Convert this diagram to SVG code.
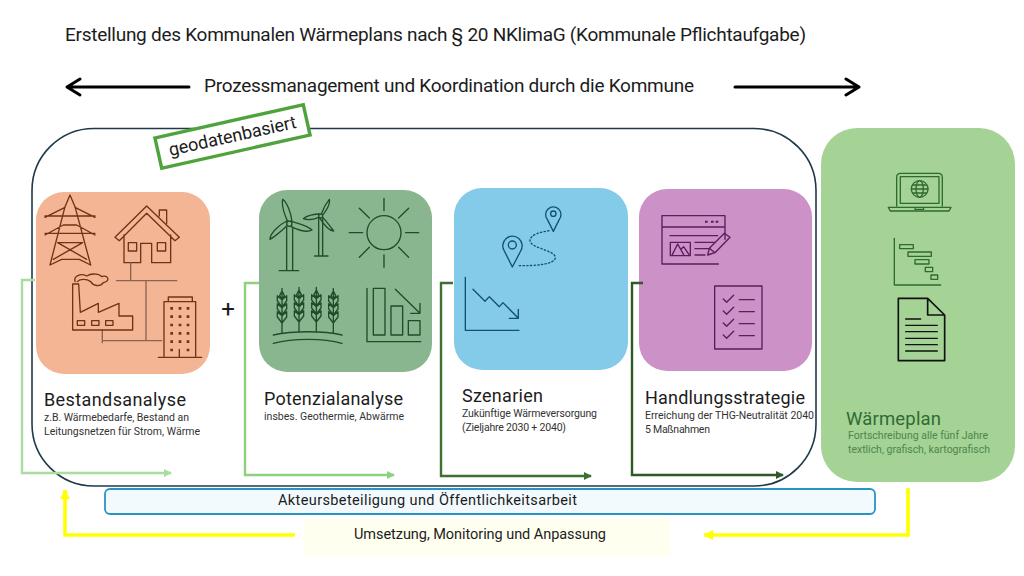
<svg xmlns="http://www.w3.org/2000/svg" width="1024" height="576" viewBox="0 0 1024 576">
<defs>
<style>
text{font-family:Roboto,"Liberation Sans",sans-serif;fill:#1c1c1c}
.h{font-size:18px}.s{font-size:10.5px;fill:#333}.t{font-size:19px}.m{font-size:14.5px}
.ic{fill:none;stroke-width:4;stroke-linejoin:round;stroke-linecap:round}
.br{stroke:#6e3417}.gr{stroke:#1f4d28}.bl{stroke:#14506f}.pu{stroke:#5c1c5e}.lg{stroke:#2f6a2f}
.c{fill:none;stroke-width:2.4}
</style>
<marker id="a1" viewBox="0 0 8 8" refX="7" refY="4" markerWidth="8" markerHeight="8" markerUnits="userSpaceOnUse" orient="auto"><path d="M0 0L8 4L0 8z" fill="#a9dca0"/></marker>
<marker id="a2" viewBox="0 0 8 8" refX="7" refY="4" markerWidth="8" markerHeight="8" markerUnits="userSpaceOnUse" orient="auto"><path d="M0 0L8 4L0 8z" fill="#8fd07f"/></marker>
<marker id="a3" viewBox="0 0 8 8" refX="7" refY="4" markerWidth="8" markerHeight="8" markerUnits="userSpaceOnUse" orient="auto"><path d="M0 0L8 4L0 8z" fill="#3e7030"/></marker>
<marker id="a4" viewBox="0 0 8 8" refX="7" refY="4" markerWidth="8" markerHeight="8" markerUnits="userSpaceOnUse" orient="auto"><path d="M0 0L8 4L0 8z" fill="#2f5a26"/></marker>
<marker id="ay" viewBox="0 0 10 10" refX="9" refY="5" markerWidth="10" markerHeight="10" markerUnits="userSpaceOnUse" orient="auto"><path d="M0 0L10 5L0 10z" fill="#ffff00"/></marker>
<g id="wheat"><path d="M0 0V133M0 8L-7 22L0 34L7 22ZM0 34L-14 22V38L0 56L14 38V22ZM0 58L-14 46V62L0 80L14 62V46ZM0 82L-14 70V86L0 104L14 86V70Z"/></g>
</defs>
<rect width="1024" height="576" fill="#fff"/>
<text id="title" x="65" y="41" class="t" textLength="741">Erstellung des Kommunalen Wärmeplans nach § 20 NKlimaG (Kommunale Pflichtaufgabe)</text>
<text id="process" x="204" y="92" class="t" textLength="490">Prozessmanagement und Koordination durch die Kommune</text>
<g id="frame"><rect x="32" y="128.5" width="784" height="357.5" rx="62" fill="none" stroke="#1e3a4a" stroke-width="1.6"/></g>
<g id="geo"><g transform="translate(232.5 136.5) rotate(-12.6)"><rect x="-76" y="-15.5" width="152" height="31" fill="#fff" stroke="#4fa33c" stroke-width="3.4"/><text x="0" y="5.5" font-size="18" text-anchor="middle" textLength="130">geodatenbasiert</text></g></g>
<g id="bestand">
<rect x="36" y="192" width="174" height="182" rx="28" fill="#f3b594"/>
<g transform="translate(20 180) scale(.3333)" class="ic br">
<path d="M90 255L135 80L150 45L165 80L212 255M75 112L135 82M225 112L165 82M75 108H225M75 165L130 135H170L225 165M75 160H225M113 188H188M113 188L200 238M188 188L100 238M90 255L125 238H178L212 255"/>
<path d="M285 172L380 78L478 172L465 182L380 100L298 182ZM418 108V90H440V130M312 165V248H362V190H395V248H452V165"/>
<rect x="325" y="188" width="25" height="25"/><rect x="412" y="188" width="25" height="25"/>
<path d="M332 248V300M290 302H470M378 302V482M247 450V488M247 482H425" stroke="#8b6350"/>
<path d="M158 450V312H176L181 397L235 370V397L297 370V408H338V450Z"/>
<rect x="172" y="422" width="22" height="14"/><rect x="215" y="422" width="22" height="14"/><rect x="257" y="422" width="22" height="14"/>
<path d="M165 305C160 285 185 280 200 288C215 278 240 282 245 290C265 282 272 305 250 308C240 322 220 318 212 305C200 296 180 296 172 305"/>
<path d="M432 532V365H527V532M445 365V351H517V365M415 532H545M478 532V508"/>
<path d="M451 385h8M476 385h8M500 385h8M451 410h8M476 410h8M500 410h8M451 435h8M476 435h8M500 435h8M451 460h8M476 460h8M500 460h8M451 485h8M476 485h8M500 485h8M451 510h8M500 510h8" stroke-width="8" stroke-linecap="butt"/>
</g>
<text class="h" x="44" y="406" textLength="142">Bestandsanalyse</text>
<text class="s" x="44" y="421" textLength="145">z.B. Wärmebedarfe, Bestand an</text>
<text class="s" x="44" y="435" textLength="156">Leitungsnetzen für  Strom, Wärme</text>
</g>
<text id="plus" x="228" y="317" font-size="24" text-anchor="middle" fill="#111">+</text>
<g id="potenzial">
<rect x="259" y="190" width="173" height="182" rx="28" fill="#8ab68f"/>
<g transform="translate(240 180) scale(.3333)" class="ic gr">
<circle cx="148" cy="131" r="8"/>
<path d="M140 272V142M158 272V142M118 272H176M142 122C132 100 124 78 128 58C142 68 153 100 156 124M158 125C175 130 205 138 216 150C198 160 170 148 152 139M141 137C125 152 100 172 90 178C90 158 122 132 140 123"/>
<circle cx="242" cy="108" r="6"/>
<path d="M236 228V116M248 228V116M224 228H264M245 100C250 85 262 65 268 58C272 75 256 95 250 103M249 113C260 125 275 145 281 153C265 152 248 128 240 115M236 112C220 120 200 120 190 116C200 106 225 102 238 102"/>
<circle cx="432" cy="158" r="51"/>
<path d="M432 55V92M432 225V262M328 158H368M497 158H536M358 85L388 114M506 85L476 114M358 232L388 202M506 232L476 202"/>
<path d="M100 465C160 452 250 452 306 465M100 490C160 474 250 474 306 490"/>
<use href="#wheat" x="126" y="325"/><use href="#wheat" x="177" y="322"/><use href="#wheat" x="229" y="322"/><use href="#wheat" x="280" y="325"/>
<path d="M381 325V485H542M400 325H435V465H400ZM453 378H488V465H453ZM505 422H540V465H505ZM466 328L540 400M540 370V400H512"/>
</g>
<text class="h" x="264" y="405" textLength="139">Potenzialanalyse</text>
<text class="s" x="264" y="420" textLength="140">insbes. Geothermie, Abwärme</text>
</g>
<g id="szenarien">
<rect x="454" y="188" width="174" height="182" rx="28" fill="#84cbe9"/>
<g transform="translate(440 180) scale(.3333)" class="ic bl">
<path d="M217 261L193 213A29 29 0 1 1 242 213Z"/><circle cx="217" cy="195" r="12"/>
<path d="M340 154L322 118A23 23 0 1 1 358 118Z"/><circle cx="340" cy="101" r="8"/>
<path d="M238 257C290 258 345 252 346 233C346 210 268 205 270 180C272 165 300 155 330 152" stroke-dasharray="4 7"/>
<path d="M76 292V451H237M99 328L135 364L148 350L178 380L189 368L235 415M235 388V415H208"/>
</g>
<text class="h" x="462" y="402" textLength="81">Szenarien</text>
<text class="s" x="462" y="417" textLength="135">Zukünftige Wärmeversorgung</text>
<text class="s" x="462" y="431" textLength="104">(Zieljahre 2030 + 2040)</text>
</g>
<g id="handlung">
<rect x="639" y="189" width="173" height="182" rx="28" fill="#cc91c7"/>
<g transform="translate(625 180) scale(.3333)" class="ic pu">
<path d="M280 252H111V107H300V178M111 141H300M135 167H278"/>
<rect x="136" y="187" width="60" height="40"/>
<path d="M142 224L158 192L176 224M168 208L176 200L192 224M210 187H268M210 206H255M210 225H240"/>
<path d="M248 225L253 205L298 160L315 172L270 218ZM253 205L270 218"/>
<path d="M240 125h8M258 125h8M272 125h8" stroke-width="6" stroke-linecap="butt"/>
<rect x="269" y="318" width="142" height="189"/>
<path d="M295 357L305 367L326 346M343 359H388M295 393L305 403L326 382M343 395H388M295 429L305 439L326 418M343 431H388M295 465L305 475L326 454M343 467H388"/>
</g>
<text class="h" x="645" y="404" textLength="160">Handlungsstrategie</text>
<text class="s" x="645" y="419" textLength="169">Erreichung der THG-Neutralität 2040</text>
<text class="s" x="645" y="433" textLength="65">5 Maßnahmen</text>
</g>
<g id="waermeplan">
<rect x="821" y="128" width="194" height="354" rx="36" fill="#a5d295"/>
<g transform="translate(815 120) scale(.3333)" class="ic lg">
<path d="M245 258V172Q245 160 257 160H370Q382 160 382 172V258M256 250V170H372V250Z"/>
<path d="M220 262H408L402 273H226ZM300 262V268H326V262"/>
<circle cx="314" cy="207" r="25"/><ellipse cx="314" cy="207" rx="11" ry="25"/><path d="M289 207H339M293 195H335M293 219H335"/>
<path d="M238 355V495H377"/>
<rect x="254" y="374" width="41" height="12"/><rect x="279" y="396" width="70" height="13"/><rect x="300" y="419" width="42" height="13"/><rect x="331" y="442" width="22" height="13"/><rect x="348" y="465" width="20" height="13"/>
<path d="M250 535H338L389 585V722H250ZM338 535V585H389" stroke="#111" stroke-width="5"/>
<path d="M272 597H317M272 616H367M272 635H367M272 655H367M272 674H367M272 693H367" stroke="#111"/>
</g>
<text x="846" y="425" font-size="18.5" style="fill:#2f6b33" textLength="95">Wärmeplan</text>
<text class="s" x="848" y="439" style="fill:#4c874c" textLength="140">Fortschreibung alle fünf Jahre</text>
<text class="s" x="848" y="453" style="fill:#4c874c" textLength="142">textlich, grafisch, kartografisch</text>
</g>
<g id="beteiligung">
<rect x="105" y="489" width="770" height="25" rx="5" fill="#f2fafd" stroke="#2a93c4" stroke-width="1.8"/>
<text class="m" x="278" y="505" textLength="299">Akteursbeteiligung und Öffentlichkeitsarbeit</text>
</g>
<g id="umsetzung">
<rect x="304" y="519" width="366" height="37" rx="3" fill="#fffff0"/>
<text class="m" x="354" y="539" textLength="252">Umsetzung, Monitoring und Anpassung</text>
</g>
<g id="connectors">
<path d="M189 87H67M80 79L67 87L80 95" fill="none" stroke="#000" stroke-width="3" stroke-linejoin="round" stroke-linecap="round"/>
<path d="M735 87H859M846 79L859 87L846 95" fill="none" stroke="#000" stroke-width="3" stroke-linejoin="round" stroke-linecap="round"/>
<path class="c" d="M35 280H22V473H171" stroke="#a9dca0" marker-end="url(#a1)"/>
<path class="c" d="M259 283H245V475H394" stroke="#8fd07f" marker-end="url(#a2)"/>
<path class="c" d="M453 283H441V476H591" stroke="#3e7030" marker-end="url(#a3)"/>
<path class="c" d="M643 283H632V475H783" stroke="#2f5a26" marker-end="url(#a4)"/>
<path d="M295 535H65V490" fill="none" stroke="#ffff00" stroke-width="3.6" marker-end="url(#ay)"/>
<path d="M908 488V535H704" fill="none" stroke="#ffff00" stroke-width="3.6" marker-end="url(#ay)"/>
</g>
</svg>
